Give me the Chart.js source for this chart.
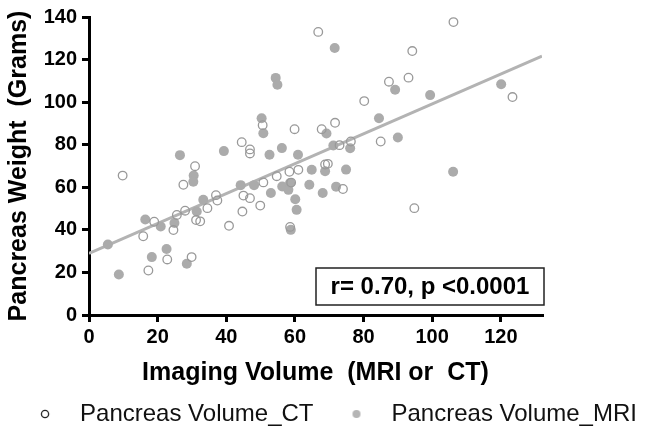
<!DOCTYPE html>
<html>
<head>
<meta charset="utf-8">
<script src="https://cdn.jsdelivr.net/npm/chart.js@4.4.1/dist/chart.umd.min.js"></script>
<style>
  html, body { margin: 0; padding: 0; background: #fff; }
  #wrap { width: 649px; height: 441px; }
</style>
</head>
<body>
<div id="wrap"><canvas id="chart" width="649" height="441"></canvas></div>
<script>
// Pancreas volume (CT) vs weight
const ctVolume = [9.8, 15.8, 17.3, 19, 22.8, 24.6, 25.6, 27.5, 28, 29.9, 30.9, 31.2, 32.4, 34.5, 37, 37.4,
  40.8, 44.5, 44.7, 45, 46.9, 46.9, 46.9, 49.9, 50.6, 50.8, 54.7, 58.4, 58.6, 58.9, 59.9, 61,
  66.8, 67.8, 68.8, 69.6, 71.7, 73, 74, 76.3, 80.2, 85, 87.4, 93.1, 94.2, 94.8, 106.2, 123.4];
const ctWeight = [65.5, 37, 20.9, 43.8, 26.1, 39.9, 47, 61.2, 49, 27.2, 69.9, 44.6, 44, 50.2, 56.3, 53.8,
  41.9, 81.2, 48.6, 56.1, 77.8, 75.9, 54.9, 51.4, 89.2, 62.3, 65.2, 67.3, 41.4, 62.2, 87.3, 68.2,
  133, 87.3, 70.7, 71, 90.3, 79.8, 59.2, 81.5, 100.5, 81.5, 109.6, 111.5, 124, 50.2, 137.6, 102.4];

// Pancreas volume (MRI) vs weight
const mriVolume = [5.5, 8.7, 16.4, 18.3, 20.9, 22.6, 24.9, 26.5, 28.5, 30.5, 30.4, 31.4, 33.3, 39.3, 44.2, 48.1,
  50.3, 50.8, 52.6, 53, 54.4, 54.9, 56.2, 56.3, 58.1, 58.6, 58.8, 60.1, 60.5, 60.9, 64.2, 64.9,
  68.1, 68.8, 69.2, 71.2, 71.6, 72, 74.9, 76.1, 84.5, 89.2, 90, 99.4, 106.1, 120.1];
const mriWeight = [33.1, 19, 44.9, 27.2, 41.6, 31, 43.2, 75.1, 24.1, 65.5, 62.6, 48.6, 54.1, 77, 61, 61,
  92.4, 85.4, 75.3, 57.3, 111.4, 108.2, 78.4, 60.4, 58.8, 62, 40, 54.4, 49.4, 75.3, 61.2, 68.2,
  57.3, 67.5, 85.3, 79.6, 125.4, 60.3, 68.3, 78.3, 92.4, 105.8, 83.4, 103.3, 67.3, 108.4];

// regression line end points
const fitX = [0, 132];
const fitY = [29, 121.6];

const xTicks = [0, 20, 40, 60, 80, 100, 120];
const yTicks = [0, 20, 40, 60, 80, 100, 120, 140];
const statText = 'r= 0.70, p <0.0001';

const FONT = 'Arial, "Liberation Sans", sans-serif';
const GREY = '#ababab';

const toPoints = (xs, ys) => xs.map((x, i) => ({ x: x, y: ys[i] }));

// legend marker; circle sits right of the image centre so the gap
// between marker and text matches the original
function legendMarker(filled) {
  const c = document.createElement('canvas');
  c.width = 24; c.height = 24;
  const g = c.getContext('2d');
  g.beginPath();
  g.arc(17, 12, filled ? 4 : 3.6, 0, Math.PI * 2);
  if (filled) {
    g.fillStyle = '#b5b5b5';
    g.fill();
  } else {
    g.lineWidth = 1.3;
    g.strokeStyle = '#222';
    g.stroke();
  }
  return c;
}

// box with the correlation result, bottom right of the plot
const statBox = {
  id: 'statBox',
  afterDraw(chart) {
    const { ctx, chartArea } = chart;
    const w = 228, h = 37;
    const x = chartArea.right + 2 - w;
    const y = chartArea.bottom - 10 - h;
    ctx.save();
    ctx.fillStyle = '#fff';
    ctx.fillRect(x, y, w, h);
    ctx.strokeStyle = '#222';
    ctx.lineWidth = 1.5;
    ctx.strokeRect(x, y, w, h);
    ctx.fillStyle = '#000';
    ctx.font = 'bold 24px ' + FONT;
    ctx.textAlign = 'center';
    ctx.textBaseline = 'middle';
    ctx.fillText(statText, x + w / 2, y + h / 2 + 1);
    ctx.restore();
  }
};

new Chart(document.getElementById('chart'), {
  type: 'scatter',
  data: {
    datasets: [
      {
        label: 'Pancreas Volume_CT',
        data: toPoints(ctVolume, ctWeight),
        pointRadius: 4.3,
        pointBackgroundColor: 'rgba(0,0,0,0)',
        pointBorderColor: '#999',
        pointBorderWidth: 1.3,
        order: 1
      },
      {
        label: 'Pancreas Volume_MRI',
        data: toPoints(mriVolume, mriWeight),
        pointRadius: 5,
        pointBackgroundColor: GREY,
        pointBorderColor: GREY,
        pointBorderWidth: 0,
        order: 2
      },
      {
        label: 'fit',
        data: toPoints(fitX, fitY),
        showLine: true,
        borderColor: '#b3b3b3',
        borderWidth: 3,
        pointRadius: 0,
        order: 3
      }
    ]
  },
  options: {
    responsive: false,
    animation: false,
    layout: { padding: { top: 17, left: 0, right: 0, bottom: 5 } },
    plugins: {
      tooltip: { enabled: false },
      legend: {
        position: 'bottom',
        labels: {
          usePointStyle: true,
          pointStyleWidth: 56,
          padding: 10,
          color: '#111',
          font: { family: FONT, size: 24 },
          generateLabels: () => [
            { text: 'Pancreas Volume_CT', pointStyle: legendMarker(false), datasetIndex: 0, fontColor: '#111' },
            { text: 'Pancreas Volume_MRI', pointStyle: legendMarker(true), datasetIndex: 1, fontColor: '#111' }
          ]
        }
      }
    },
    scales: {
      x: {
        type: 'linear',
        min: 0,
        max: 132,
        afterBuildTicks: s => { s.ticks = xTicks.map(v => ({ value: v })); },
        afterFit: s => { s.height = 77; },
        border: { color: '#000', width: 3 },
        grid: { drawOnChartArea: false, drawTicks: true, tickLength: 7, color: '#000', lineWidth: 3 },
        ticks: { color: '#000', padding: 3, maxRotation: 0, font: { family: FONT, size: 20, weight: 'bold' } },
        title: {
          display: true,
          text: 'Imaging Volume  (MRI or  CT)',
          color: '#000',
          padding: { top: 0, bottom: 4 },
          font: { family: FONT, size: 25, weight: 'bold' }
        }
      },
      y: {
        min: 0,
        max: 140,
        afterBuildTicks: s => { s.ticks = yTicks.map(v => ({ value: v })); },
        afterFit: s => { s.width = 89; },
        border: { color: '#000', width: 3 },
        grid: { drawOnChartArea: false, drawTicks: true, tickLength: 7, color: '#000', lineWidth: 3 },
        ticks: { color: '#000', padding: 5, font: { family: FONT, size: 20, weight: 'bold' } },
        title: {
          display: true,
          text: 'Pancreas Weight  (Grams)',
          color: '#000',
          padding: { top: 4, bottom: 0 },
          font: { family: FONT, size: 25, weight: 'bold' }
        }
      },
      // empty axis on the right, only keeps the plot clear of the right edge
      pad: {
        position: 'right',
        display: true,
        afterFit: s => { s.width = 107; },
        border: { display: false },
        grid: { display: false },
        ticks: { display: false }
      }
    }
  },
  plugins: [statBox]
});
</script>
</body>
</html>
